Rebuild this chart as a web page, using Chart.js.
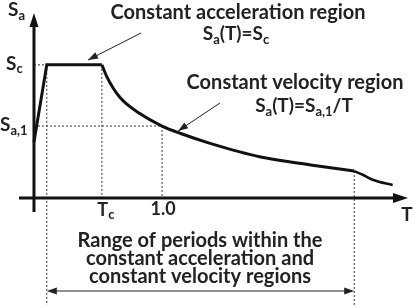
<!DOCTYPE html>
<html>
<head>
<meta charset="utf-8">
<script src="https://cdn.jsdelivr.net/npm/chart.js@4"></script>
<style>
  html, body { margin: 0; padding: 0; background: #fff; }
  canvas { display: block; }
</style>
</head>
<body>
<canvas id="spectrum_chart" width="414" height="305"></canvas>
<script>
// Periods T (x) and spectral acceleration Sa (y, in units of Sa,1)
const riseT = [0, 0.10, 0.53];
const riseSa = [0.78, 1.85, 1.85];
const curveT = [0.53, 0.57, 0.67, 0.83, 1.0, 1.14, 1.375, 1.77, 2.16, 2.5];
const curveSa = [1.85, 1.68, 1.40, 1.17, 1.0, 0.90, 0.76, 0.57, 0.46, 0.375];
const tailT = [2.5, 2.57, 2.65, 2.8];
const tailSa = [0.375, 0.32, 0.25, 0.18];

// Key levels and periods
const Sc = 1.85;
const Sa1 = 1.0;
const Tc = 0.53;
const Tone = 1.0;
const rangeStart = 0.10;
const rangeEnd = 2.5;

const FONT = 'Lato, "Open Sans", sans-serif';

function toPoints(xs, ys) {
  return xs.map((x, i) => ({ x: x, y: ys[i] }));
}

// Draw text made of normal and subscript parts
function drawParts(ctx, parts, x, y, size, align) {
  const subSize = Math.round(size * 0.7);
  let total = 0;
  for (const p of parts) {
    ctx.font = 'bold ' + (p[1] ? subSize : size) + 'px ' + FONT;
    total += ctx.measureText(p[0]).width;
  }
  let cx = x;
  if (align === 'center') cx = x - total / 2;
  if (align === 'right') cx = x - total;
  ctx.textBaseline = 'middle';
  ctx.textAlign = 'left';
  for (const p of parts) {
    ctx.font = 'bold ' + (p[1] ? subSize : size) + 'px ' + FONT;
    ctx.fillText(p[0], cx, p[1] ? y + size * 0.28 : y);
    cx += ctx.measureText(p[0]).width;
  }
}

function arrowHead(ctx, x, y, angle, len, half) {
  ctx.save();
  ctx.translate(x, y);
  ctx.rotate(angle);
  ctx.beginPath();
  ctx.moveTo(0, 0);
  ctx.lineTo(-len, -half);
  ctx.lineTo(-len, half);
  ctx.closePath();
  ctx.fill();
  ctx.restore();
}

function arrowLine(ctx, x1, y1, x2, y2, width, len, half) {
  ctx.lineWidth = width;
  ctx.beginPath();
  ctx.moveTo(x1, y1);
  ctx.lineTo(x2, y2);
  ctx.stroke();
  arrowHead(ctx, x2, y2, Math.atan2(y2 - y1, x2 - x1), len, half);
}

const guidesPlugin = {
  id: 'guides',
  beforeDatasetsDraw(chart) {
    const ctx = chart.ctx;
    const xs = chart.scales.x;
    const ys = chart.scales.y;
    const x0 = xs.getPixelForValue(0);
    const y0 = ys.getPixelForValue(0);
    const H = chart.height;

    ctx.save();
    ctx.strokeStyle = '#333';
    ctx.lineWidth = 1;
    ctx.setLineDash([2, 2]);
    ctx.beginPath();
    // Sc level
    ctx.moveTo(x0, ys.getPixelForValue(Sc));
    ctx.lineTo(xs.getPixelForValue(rangeStart), ys.getPixelForValue(Sc));
    // Sa,1 level
    ctx.moveTo(x0, ys.getPixelForValue(Sa1));
    ctx.lineTo(xs.getPixelForValue(Tone), ys.getPixelForValue(Sa1));
    // Tc
    ctx.moveTo(xs.getPixelForValue(Tc), ys.getPixelForValue(Sc));
    ctx.lineTo(xs.getPixelForValue(Tc), y0);
    // 1.0
    ctx.moveTo(xs.getPixelForValue(Tone), ys.getPixelForValue(Sa1));
    ctx.lineTo(xs.getPixelForValue(Tone), y0);
    // range limits
    ctx.moveTo(xs.getPixelForValue(rangeStart), ys.getPixelForValue(Sc));
    ctx.lineTo(xs.getPixelForValue(rangeStart), H);
    ctx.moveTo(xs.getPixelForValue(rangeEnd), ys.getPixelForValue(tailSa[0]));
    ctx.lineTo(xs.getPixelForValue(rangeEnd), H);
    ctx.stroke();
    ctx.restore();
  },
  afterDatasetsDraw(chart) {
    const ctx = chart.ctx;
    const area = chart.chartArea;
    const xs = chart.scales.x;
    const ys = chart.scales.y;
    const x0 = xs.getPixelForValue(0);
    const y0 = ys.getPixelForValue(0);

    ctx.save();
    ctx.strokeStyle = '#111';
    ctx.fillStyle = '#111';
    // axes
    ctx.lineWidth = 3;
    ctx.beginPath();
    ctx.moveTo(x0, area.bottom);
    ctx.lineTo(x0, area.top + 12);
    ctx.moveTo(area.left, y0);
    ctx.lineTo(area.right - 12, y0);
    ctx.stroke();
    arrowHead(ctx, x0, area.top, -Math.PI / 2, 14, 4.5);
    arrowHead(ctx, area.right, y0, 0, 15, 5);

    // axis labels
    ctx.fillStyle = '#222';
    drawParts(ctx, [['S', 0], ['a', 1]], 8, 10, 19, 'left');
    drawParts(ctx, [['S', 0], ['c', 1]], 6, ys.getPixelForValue(Sc) - 1, 19, 'left');
    drawParts(ctx, [['S', 0], ['a,1', 1]], 0, ys.getPixelForValue(Sa1) - 1, 19, 'left');
    drawParts(ctx, [['T', 0], ['c', 1]], xs.getPixelForValue(Tc) + 4, y0 + 12, 18, 'center');
    drawParts(ctx, [['1.0', 0]], xs.getPixelForValue(Tone) + 1, y0 + 11, 18, 'center');
    drawParts(ctx, [['T', 0]], area.right - 1, y0 + 17, 19, 'center');

    // region notes
    drawParts(ctx, [['Constant acceleration region', 0]], 238, 13, 20, 'center');
    drawParts(ctx, [['S', 0], ['a', 1], ['(T)=S', 0], ['c', 1]], 236, 34, 19, 'center');
    drawParts(ctx, [['Constant velocity region', 0]], 295, 83, 20, 'center');
    drawParts(ctx, [['S', 0], ['a', 1], ['(T)=S', 0], ['a,1', 1], ['/T', 0]], 304, 106, 19, 'center');

    // pointer arrows
    ctx.strokeStyle = '#222';
    ctx.fillStyle = '#222';
    arrowLine(ctx, 141, 33, 88, 60, 1, 10, 3.5);
    arrowLine(ctx, 220, 103, 178, 131, 1, 10, 3.5);

    // range of periods
    ctx.fillStyle = '#222';
    const lines = ['Range of periods within the', 'constant acceleration and', 'constant velocity regions'];
    lines.forEach((t, i) => drawParts(ctx, [[t, 0]], 200, 241 + i * 18, 20, 'center'));
    const ax1 = xs.getPixelForValue(rangeStart);
    const ax2 = xs.getPixelForValue(rangeEnd);
    const ay = 291;
    ctx.strokeStyle = '#222';
    ctx.fillStyle = '#222';
    ctx.lineWidth = 1;
    ctx.beginPath();
    ctx.moveTo(ax1 + 4, ay);
    ctx.lineTo(ax2 - 4, ay);
    ctx.stroke();
    arrowHead(ctx, ax1, ay, Math.PI, 10, 3.5);
    arrowHead(ctx, ax2, ay, 0, 10, 3.5);
    ctx.restore();
  }
};

const ctx = document.getElementById('spectrum_chart').getContext('2d');
new Chart(ctx, {
  type: 'scatter',
  data: {
    datasets: [
      {
        label: 'rise',
        data: toPoints(riseT, riseSa),
        showLine: true,
        borderColor: '#111',
        borderWidth: 3,
        pointRadius: 0,
        tension: 0,
      },
      {
        label: 'constant velocity',
        data: toPoints(curveT, curveSa),
        showLine: true,
        borderColor: '#111',
        borderWidth: 3,
        pointRadius: 0,
        cubicInterpolationMode: 'monotone',
      },
      {
        label: 'tail',
        data: toPoints(tailT, tailSa),
        showLine: true,
        borderColor: '#111',
        borderWidth: 2.5,
        pointRadius: 0,
        cubicInterpolationMode: 'monotone',
      },
    ],
  },
  options: {
    responsive: false,
    animation: false,
    devicePixelRatio: 1,
    layout: { padding: { left: 19, right: 6, top: 13, bottom: 93 } },
    plugins: { legend: { display: false }, tooltip: { enabled: false } },
    scales: {
      x: { type: 'linear', min: -0.117, max: 2.92, display: false },
      y: { type: 'linear', min: -0.194, max: 2.57, display: false },
    },
  },
  plugins: [guidesPlugin],
});
</script>
</body>
</html>
